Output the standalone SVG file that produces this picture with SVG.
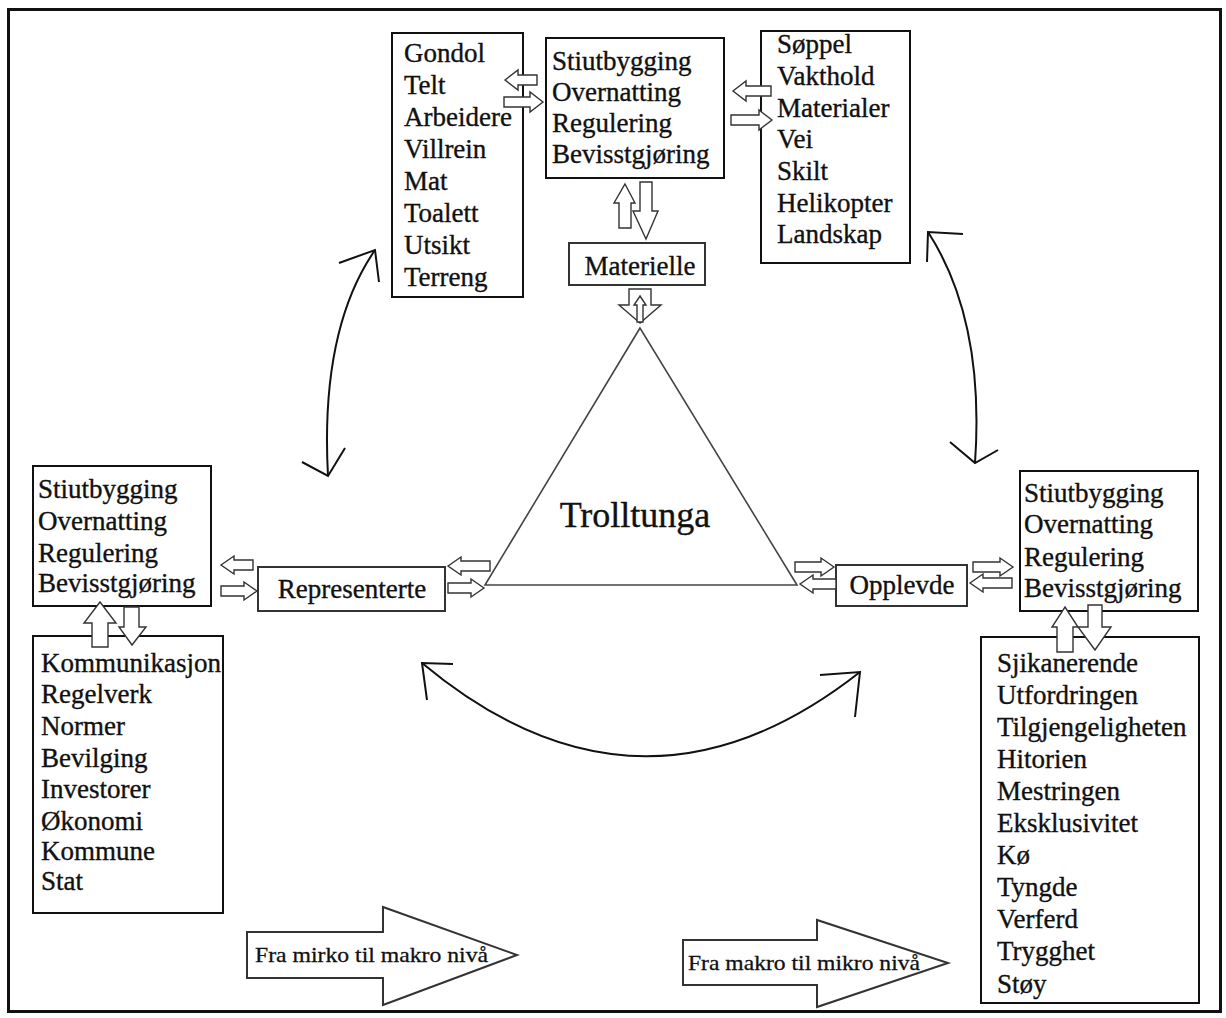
<svg xmlns="http://www.w3.org/2000/svg" width="1226" height="1018" viewBox="0 0 1226 1018">
<style>
.box{fill:#fff;stroke:#111;stroke-width:2}
.lbl{fill:#fff;stroke:#333;stroke-width:2}
.t{font-family:"Liberation Serif","Times New Roman",serif;font-size:27px;fill:#111;stroke:#111;stroke-width:0.35}
.c{text-anchor:middle}
.ba{fill:#fff;stroke:#333;stroke-width:1.4;stroke-linejoin:miter}
.big{fill:#fff;stroke:#333;stroke-width:2}
.cv{fill:none;stroke:#111;stroke-width:2}
.tri{fill:none;stroke:#444;stroke-width:1.6}
.sm{font-family:"Liberation Serif","Times New Roman",serif;font-size:22px;fill:#111;stroke:#111;stroke-width:0.3}
</style>
<rect x="0" y="0" width="1226" height="1018" fill="#fff"/>
<rect x="8.5" y="9.5" width="1212" height="1002" fill="none" stroke="#111" stroke-width="3"/>

<g id="triangle">
<polygon class="tri" points="640,328 485,585 797,585"/>
<text class="t c" x="635" y="527" style="font-size:36px">Trolltunga</text>
</g>

<g id="materielle-list-left">
<rect class="box" x="392" y="33" width="131" height="264"/>
<text class="t" x="404" y="62">Gondol</text>
<text class="t" x="404" y="94">Telt</text>
<text class="t" x="404" y="126">Arbeidere</text>
<text class="t" x="404" y="158">Villrein</text>
<text class="t" x="404" y="190">Mat</text>
<text class="t" x="404" y="222">Toalett</text>
<text class="t" x="404" y="254">Utsikt</text>
<text class="t" x="404" y="286">Terreng</text>
</g>

<g id="materielle-tiltak">
<rect class="box" x="546" y="38" width="178" height="140"/>
<text class="t" x="552" y="70">Stiutbygging</text>
<text class="t" x="552" y="101">Overnatting</text>
<text class="t" x="552" y="132">Regulering</text>
<text class="t" x="552" y="163">Bevisstgjøring</text>
</g>

<g id="materielle-list-right">
<rect class="box" x="761" y="31" width="149" height="232"/>
<text class="t" x="777" y="53">Søppel</text>
<text class="t" x="777" y="85">Vakthold</text>
<text class="t" x="777" y="117">Materialer</text>
<text class="t" x="777" y="148">Vei</text>
<text class="t" x="777" y="180">Skilt</text>
<text class="t" x="777" y="212">Helikopter</text>
<text class="t" x="777" y="243">Landskap</text>
</g>

<g id="materielle">
<rect class="lbl" x="569" y="243" width="136" height="42"/>
<text class="t c" x="640" y="275">Materielle</text>
</g>

<g id="representerte-tiltak">
<rect class="box" x="33" y="466" width="178" height="140"/>
<text class="t" x="38" y="498">Stiutbygging</text>
<text class="t" x="38" y="530">Overnatting</text>
<text class="t" x="38" y="562">Regulering</text>
<text class="t" x="38" y="592">Bevisstgjøring</text>
</g>

<g id="representerte-list">
<rect class="box" x="33" y="636" width="190" height="277"/>
<text class="t" x="41" y="672">Kommunikasjon</text>
<text class="t" x="41" y="703">Regelverk</text>
<text class="t" x="41" y="735">Normer</text>
<text class="t" x="41" y="767">Bevilging</text>
<text class="t" x="41" y="798">Investorer</text>
<text class="t" x="41" y="830">Økonomi</text>
<text class="t" x="41" y="860">Kommune</text>
<text class="t" x="41" y="890">Stat</text>
</g>

<g id="representerte">
<rect class="lbl" x="258" y="567" width="187" height="44"/>
<text class="t c" x="352" y="598">Representerte</text>
</g>

<g id="opplevde">
<rect class="lbl" x="836" y="565" width="131" height="41"/>
<text class="t c" x="902" y="594">Opplevde</text>
</g>

<g id="opplevde-tiltak">
<rect class="box" x="1020" y="471" width="178" height="140"/>
<text class="t" x="1024" y="502">Stiutbygging</text>
<text class="t" x="1024" y="533">Overnatting</text>
<text class="t" x="1024" y="566">Regulering</text>
<text class="t" x="1024" y="597">Bevisstgjøring</text>
</g>

<g id="opplevde-list">
<rect class="box" x="981" y="637" width="218" height="366"/>
<text class="t" x="997" y="672">Sjikanerende</text>
<text class="t" x="997" y="704">Utfordringen</text>
<text class="t" x="997" y="736">Tilgjengeligheten</text>
<text class="t" x="997" y="768">Hitorien</text>
<text class="t" x="997" y="800">Mestringen</text>
<text class="t" x="997" y="832">Eksklusivitet</text>
<text class="t" x="997" y="864">Kø</text>
<text class="t" x="997" y="896">Tyngde</text>
<text class="t" x="997" y="928">Verferd</text>
<text class="t" x="997" y="960">Trygghet</text>
<text class="t" x="997" y="993">Støy</text>
</g>

<g id="mikro-makro">
<path class="big" d="M247,932 L383,932 L383,907 L517,955 L383,1005 L383,978 L247,978 Z"/>
<text class="sm" x="255" y="962" textLength="233" lengthAdjust="spacingAndGlyphs">Fra mirko til makro nivå</text>
</g>

<g id="makro-mikro">
<path class="big" d="M683,940 L817,940 L817,920 L948,963 L817,1007 L817,985 L683,985 Z"/>
<text class="sm" x="688" y="970" textLength="232" lengthAdjust="spacingAndGlyphs">Fra makro til mikro nivå</text>
</g>

<g id="connectors">
<path class="ba" d="M505,80 L518,70 L518,75 L537,75 L537,85 L518,85 L518,90 Z"/>
<path class="ba" d="M543,102 L530,92 L530,97 L504,97 L504,107 L530,107 L530,112 Z"/>
<path class="ba" d="M733,91 L746,81 L746,86 L771,86 L771,96 L746,96 L746,101 Z"/>
<path class="ba" d="M772,120 L759,110 L759,115 L731,115 L731,125 L759,125 L759,130 Z"/>
<path class="ba" d="M221,565 L234,556 L234,560 L253,560 L253,570 L234,570 L234,574 Z"/>
<path class="ba" d="M257,591 L244,582 L244,586 L221,586 L221,596 L244,596 L244,600 Z"/>
<path class="ba" d="M448,566 L461,557 L461,561 L490,561 L490,571 L461,571 L461,575 Z"/>
<path class="ba" d="M484,588 L471,579 L471,583 L448,583 L448,593 L471,593 L471,597 Z"/>
<path class="ba" d="M834,567 L821,558 L821,562 L795,562 L795,572 L821,572 L821,576 Z"/>
<path class="ba" d="M800,584 L813,575 L813,579 L836,579 L836,589 L813,589 L813,593 Z"/>
<path class="ba" d="M1013,567 L1000,558 L1000,562 L973,562 L973,572 L1000,572 L1000,576 Z"/>
<path class="ba" d="M970,583 L983,574 L983,578 L1012,578 L1012,588 L983,588 L983,592 Z"/>
<path class="ba" d="M625,184 L635,203 L631,203 L631,228 L619,228 L619,203 L614,203 Z"/>
<path class="ba" d="M646,239 L633,211 L640,211 L640,182 L652,182 L652,211 L658,211 Z"/>
<path class="ba" d="M640,323 L619,305 L629,305 L629,289 L651,289 L651,305 L661,305 Z"/>
<path class="ba" d="M640,296 L646,305 L643,305 L643,322 L637,322 L637,305 L634,305 Z"/>
<path class="ba" d="M100,602 L116,623 L108,623 L108,647 L92,647 L92,623 L84,623 Z"/>
<path class="ba" d="M132,645 L119,627 L124,627 L124,607 L139,607 L139,627 L146,627 Z"/>
<path class="ba" d="M1065,607 L1078,627 L1073,627 L1073,652 L1057,652 L1057,627 L1052,627 Z"/>
<path class="ba" d="M1095,650 L1078,627 L1088,627 L1088,605 L1102,605 L1102,627 L1111,627 Z"/>
<path class="cv" d="M375,250 Q320,330 328,476"/>
<polyline class="cv" points="339,263 375,250 379,282"/>
<polyline class="cv" points="302,462 328,476 345,448"/>
<path class="cv" d="M928,232 Q985,320 975,463"/>
<polyline class="cv" points="963,234 928,232 927,262"/>
<polyline class="cv" points="950,442 975,463 998,450"/>
<path class="cv" d="M422,663 Q640,845 860,672"/>
<polyline class="cv" points="453,664 422,663 427,700"/>
<polyline class="cv" points="820,675 860,672 855,717"/>
</g>
</svg>
